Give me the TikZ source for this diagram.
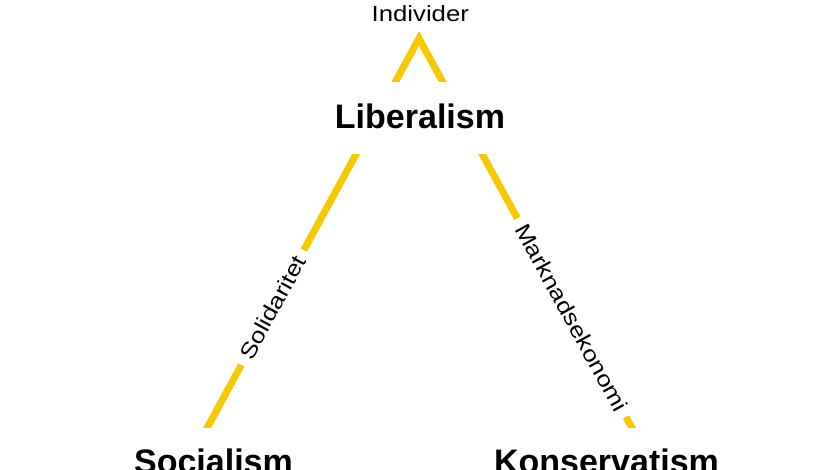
\documentclass[tikz,border=0pt]{standalone}
\usepackage{fontspec}
\setmainfont{Liberation Sans}
\newfontfamily\lblfont[FakeStretch=1.17]{Liberation Sans}
\definecolor{ygold}{RGB}{245,200,0}
\tikzset{
  yline/.style={draw=ygold, line width=7pt, line join=miter},
  lbl/.style={fill=white, font=\lblfont\fontsize{22}{26}\selectfont, inner xsep=8pt, inner ysep=4pt, sloped},
  ideology/.style={font=\bfseries\fontsize{34}{40}\selectfont, inner sep=0pt},
}
\begin{document}
\begin{tikzpicture}[x=1pt,y=-1pt]
\useasboundingbox (0,0) rectangle (836,470);
\fill[white] (0,0) rectangle (836,470);
\coordinate (apex) at (419,38.5);
\coordinate (footL) at (200.5,440);
\coordinate (footR) at (638.6,440);
\begin{scope}
  \clip (0,0) rectangle (836,428);
  \draw[yline] (footL) -- node[lbl, pos=0.33] (sol) {Solidaritet} (apex)
                       -- node[lbl, pos=0.695] (mark) {Marknadsekonomi} (footR);
\end{scope}
\node[ideology, fill=white, minimum height=72pt, inner xsep=6pt, text height=24.8pt, text depth=4pt] (lib) at (420,118) {Liberalism};
\node[font=\lblfont\fontsize{22}{26}\selectfont, anchor=base, inner sep=0pt] (ind) at (420.3,21.5) {Individer};
\node[ideology, anchor=base] (soc) at (213.5,474) {Socialism};
\node[ideology, anchor=base] (kons) at (606.5,474) {Konservatism};
\end{tikzpicture}
\end{document}
